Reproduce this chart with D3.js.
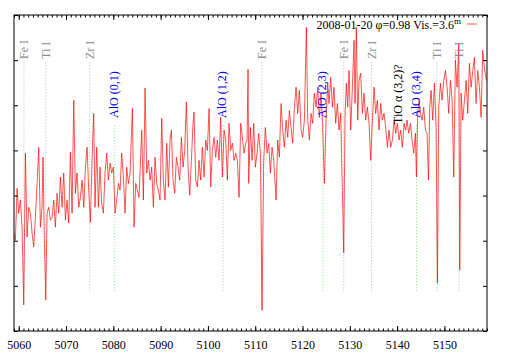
<!DOCTYPE html>
<html>
<head>
<meta charset="utf-8">
<script src="https://cdn.jsdelivr.net/npm/d3@7"></script>
<style>
  body { margin: 0; background: #fff; }
  text { font-family: "Liberation Serif", "DejaVu Serif", serif; }
</style>
</head>
<body>
<div class="container"></div>
<script>
// wavelength (Angstrom) and relative flux
const wavelength = [
  5058.94, 5059.29, 5059.65, 5060.00, 5060.35, 5060.70, 5061.06, 5061.41, 5061.76, 5062.11,
  5062.47, 5062.82, 5063.17, 5063.52, 5063.88, 5064.23, 5064.58, 5064.93, 5065.14, 5065.42,
  5065.71, 5065.99, 5066.34, 5066.69, 5067.05, 5067.40, 5067.75, 5068.10, 5068.46, 5068.81,
  5069.16, 5069.51, 5069.87, 5070.22, 5070.57, 5070.92, 5071.28, 5071.63, 5071.98, 5072.33,
  5072.69, 5073.04, 5073.39, 5073.75, 5074.10, 5074.45, 5074.80, 5075.15, 5075.50, 5075.85,
  5076.13, 5076.49, 5076.84, 5077.19, 5077.54, 5077.90, 5078.25, 5078.60, 5078.95, 5079.31,
  5079.66, 5080.01, 5080.36, 5080.72, 5081.07, 5081.42, 5081.77, 5082.13, 5082.48, 5082.83,
  5083.18, 5083.54, 5084.03, 5084.38, 5084.73, 5085.08, 5085.44, 5086.00, 5086.35, 5086.71,
  5087.06, 5087.41, 5087.76, 5088.11, 5088.47, 5088.82, 5089.17, 5089.52, 5089.88, 5090.23,
  5090.58, 5090.93, 5091.29, 5091.64, 5091.99, 5092.27, 5092.62, 5092.98, 5093.33, 5093.68,
  5094.03, 5094.39, 5094.74, 5095.09, 5095.44, 5095.80, 5096.15, 5096.50, 5096.85, 5097.06,
  5097.42, 5097.77, 5098.12, 5098.47, 5098.83, 5099.18, 5099.53, 5099.88, 5100.24, 5100.59,
  5100.94, 5101.29, 5101.65, 5102.00, 5102.35, 5102.70, 5103.05, 5103.41, 5103.76, 5104.11,
  5104.46, 5104.82, 5105.17, 5105.52, 5105.87, 5106.23, 5106.58, 5106.93, 5107.28, 5107.64,
  5107.99, 5108.27, 5108.48, 5108.62, 5108.97, 5109.33, 5109.68, 5110.03, 5110.38, 5110.74,
  5111.09, 5111.44, 5111.79, 5112.14, 5112.50, 5112.85, 5113.20, 5113.55, 5113.91, 5114.40,
  5114.75, 5115.10, 5115.46, 5115.81, 5116.16, 5116.51, 5116.87, 5117.22, 5117.57, 5117.92,
  5118.28, 5118.63, 5118.98, 5119.33, 5119.69, 5120.04, 5120.39, 5120.81, 5121.10, 5121.45,
  5121.80, 5122.15, 5122.50, 5122.86, 5123.21, 5123.56, 5123.91, 5124.26, 5124.62, 5124.97,
  5125.32, 5125.60, 5125.96, 5126.31, 5126.66, 5127.01, 5127.37, 5127.72, 5128.07, 5128.42,
  5128.71, 5128.99, 5129.27, 5129.55, 5129.83, 5130.19, 5130.54, 5130.89, 5131.10, 5131.38,
  5131.67, 5131.95, 5132.30, 5132.65, 5133.00, 5133.36, 5133.71, 5134.06, 5134.41, 5134.77,
  5135.12, 5135.47, 5135.82, 5136.18, 5136.53, 5136.88, 5137.23, 5137.58, 5137.94, 5138.29,
  5138.64, 5138.99, 5139.35, 5139.70, 5140.05, 5140.40, 5140.76, 5141.11, 5141.46, 5141.81,
  5142.10, 5142.46, 5142.81, 5143.16, 5143.51, 5143.87, 5144.08, 5144.36, 5144.64, 5144.92,
  5145.28, 5145.63, 5145.98, 5146.33, 5146.62, 5146.90, 5147.18, 5147.53, 5147.88, 5148.24,
  5148.52, 5148.80, 5149.15, 5149.50, 5149.86, 5150.21, 5150.56, 5150.91, 5151.27, 5151.62,
  5151.97, 5152.32, 5152.68, 5153.03, 5153.24, 5153.52, 5153.87, 5154.23, 5154.58, 5154.93,
  5155.28, 5155.64, 5155.99, 5156.34, 5156.69, 5157.04, 5157.40, 5157.75, 5158.10, 5158.45,
  5158.87
];
const flux = [
  2.17, 2.01, 3.16, 2.61, 2.90, 2.30, 0.58, 3.94, 2.08, 2.74,
  2.61, 2.17, 1.86, 2.52, 3.27, 4.07, 2.30, 2.74, 3.85, 2.01,
  0.69, 2.61, 2.74, 2.46, 2.52, 2.90, 2.30, 3.05, 2.61, 3.41,
  2.74, 3.50, 2.46, 2.90, 2.39, 3.96, 2.61, 5.11, 3.05, 3.50,
  2.74, 2.96, 3.34, 2.74, 3.63, 4.07, 3.12, 2.41, 3.78, 4.82,
  2.74, 4.07, 2.74, 3.63, 2.83, 2.61, 3.50, 3.94, 3.34, 3.72,
  3.50, 3.63, 2.61, 2.90, 3.27, 3.12, 3.94, 3.41, 2.61, 3.63,
  3.27, 3.50, 4.93, 2.30, 3.27, 3.12, 2.96, 4.45, 2.90, 5.38,
  3.50, 3.78, 3.34, 3.63, 2.74, 3.85, 3.27, 3.12, 2.90, 4.71,
  3.34, 2.90, 4.16, 3.19, 4.23, 4.45, 3.34, 3.05, 3.85, 3.63,
  3.34, 4.29, 3.63, 4.00, 5.07, 3.63, 3.01, 3.78, 4.60, 4.85,
  3.34, 3.19, 3.78, 3.34, 4.07, 3.41, 4.23, 4.00, 4.93, 3.19,
  4.00, 4.29, 3.85, 4.23, 3.78, 4.73, 3.41, 4.45, 4.23, 3.34,
  4.60, 4.00, 4.16, 3.78, 3.94, 3.78, 2.96, 4.60, 4.29, 3.94,
  4.16, 4.23, 5.80, 3.27, 4.51, 3.78, 4.60, 3.63, 3.94, 4.38,
  3.94, 0.46, 3.78, 4.51, 3.94, 4.16, 3.50, 4.07, 3.78, 2.90,
  4.23, 3.85, 5.04, 4.45, 4.07, 4.67, 4.29, 4.89, 4.51, 4.16,
  4.96, 5.40, 4.82, 5.33, 4.45, 4.29, 4.67, 6.73, 4.67, 4.23,
  4.82, 4.60, 5.27, 4.96, 5.40, 4.73, 5.27, 4.51, 3.27, 4.67,
  5.50, 5.04, 5.62, 4.96, 5.40, 4.60, 5.04, 4.45, 4.82, 3.12,
  1.73, 4.82, 5.49, 4.96, 5.77, 4.45, 5.40, 6.44, 5.04, 6.73,
  4.67, 5.55, 5.71, 4.82, 5.27, 4.67, 4.96, 4.60, 3.78, 4.67,
  5.40, 4.82, 5.11, 4.45, 5.04, 4.67, 4.82, 4.51, 4.07, 4.45,
  4.07, 4.23, 4.67, 4.38, 4.60, 4.23, 4.45, 4.07, 4.60, 4.45,
  4.67, 4.38, 4.60, 4.23, 3.94, 4.38, 3.41, 4.82, 5.11, 4.82,
  4.67, 4.96, 4.45, 4.38, 3.34, 4.96, 5.33, 4.67, 5.49, 4.51,
  1.06, 4.96, 5.49, 5.11, 5.55, 5.77, 5.40, 4.82, 5.55, 5.11,
  3.41, 6.00, 5.40, 6.37, 1.35, 5.27, 4.67, 5.11, 5.55, 4.82,
  5.93, 5.40, 5.77, 6.06, 5.04, 5.77, 5.40, 4.73, 6.22, 5.84,
  5.55
];

// atomic lines (grey) and molecular bands
const atomLabels = ["Fe I", "Ti I", "Zr I", "Fe I", "Fe I", "Zr I", "Ti I", "Ti I"];
const atomWaves  = [5061.1, 5065.7, 5075.0, 5111.4, 5128.7, 5134.6, 5148.4, 5153.1];
const bandLabels = ["AlO (0,1)", "AlO (1,2)", "AlO (2,3)", "AlO (3,4)"];
const bandWaves  = [5080.3, 5103.2, 5124.3, 5144.1];
const tioLabel = "TiO \u03b1 (3,2)?";
const tioWave  = 5140.1;

const xTicks = [5060, 5070, 5080, 5090, 5100, 5110, 5120, 5130, 5140, 5150];
const legendText = "2008-01-20 \u03c6=0.98 Vis.=3.6";

const margin = {top: 15, right: 22, bottom: 25, left: 14};
const W = 509, H = 356;
const width = W - margin.left - margin.right;
const height = H - margin.top - margin.bottom;

const svg = d3.select(".container")
  .append("svg")
    .attr("width", W)
    .attr("height", H)
  .append("g")
    .attr("transform", "translate(" + margin.left + "," + margin.top + ")");

const x = d3.scaleLinear().domain([5059, 5159]).range([0, width]);
const y = d3.scaleLinear().domain([0, 7]).range([height, 0]);

svg.append("clipPath").attr("id", "clip")
  .append("rect").attr("width", width).attr("height", height);

// marker lines
const markers = svg.append("g");
markers.selectAll(".atom-line")
  .data(atomWaves)
  .enter().append("line")
    .attr("x1", d => x(d)).attr("x2", d => x(d))
    .attr("y1", y(5.95)).attr("y2", y(0.84))
    .attr("stroke", "#aaa")
    .attr("stroke-width", 0.8)
    .attr("stroke-dasharray", "1,2");

markers.selectAll(".band-line")
  .data(bandWaves)
  .enter().append("line")
    .attr("x1", d => x(d)).attr("x2", d => x(d))
    .attr("y1", y(4.56)).attr("y2", y(0.84))
    .attr("stroke", "#66e066")
    .attr("stroke-width", 0.8)
    .attr("stroke-dasharray", "1,2");

// spectrum
const pts = wavelength.map((w, i) => [w, flux[i]]);
svg.append("path")
  .datum(pts)
  .attr("clip-path", "url(#clip)")
  .attr("fill", "none")
  .attr("stroke", "#ff0000")
  .attr("stroke-width", 0.9)
  .attr("stroke-opacity", 0.75)
  .attr("d", d3.line().x(d => x(d[0])).y(d => y(d[1])));

// labels
svg.selectAll(".atom-label")
  .data(atomWaves)
  .enter().append("text")
    .attr("transform", d => "translate(" + x(d) + "," + (44 - margin.top + 15) + ") rotate(-90)")
    .attr("dy", "0.35em")
    .attr("font-size", 12)
    .attr("fill", "#8c8c8c")
    .text((d, i) => atomLabels[i]);

svg.selectAll(".band-label")
  .data(bandWaves)
  .enter().append("text")
    .attr("transform", d => "translate(" + (x(d) - 1) + "," + (118 - margin.top) + ") rotate(-90)")
    .attr("dy", "0.35em")
    .attr("font-size", 12)
    .attr("fill", "#0000ff")
    .text((d, i) => bandLabels[i]);

svg.append("text")
  .attr("transform", "translate(" + x(tioWave) + "," + (124 - margin.top) + ") rotate(-90)")
  .attr("dy", "0.35em")
  .attr("font-size", 12)
  .attr("fill", "#000")
  .text(tioLabel);

// axes
function styleAxis(g) {
  g.select(".domain").remove();
  g.selectAll("line").attr("stroke", "#000");
  g.selectAll("text").attr("font-family", "Liberation Serif, serif").attr("font-size", 12).attr("fill", "#000");
}

svg.append("g")
  .attr("transform", "translate(0," + height + ")")
  .call(d3.axisBottom(x).tickValues(xTicks).tickFormat(d3.format("d")).tickSizeInner(-5).tickSizeOuter(0).tickPadding(9))
  .call(styleAxis);

svg.append("g")
  .attr("transform", "translate(0," + height + ")")
  .call(d3.axisBottom(x).ticks(100).tickFormat("").tickSizeInner(-2.5).tickSizeOuter(0))
  .call(styleAxis);

svg.append("g")
  .call(d3.axisTop(x).tickValues(xTicks).tickFormat("").tickSizeInner(-5).tickSizeOuter(0))
  .call(styleAxis);

svg.append("g")
  .call(d3.axisTop(x).ticks(100).tickFormat("").tickSizeInner(-2.5).tickSizeOuter(0))
  .call(styleAxis);

svg.append("g")
  .call(d3.axisLeft(y).ticks(7).tickFormat("").tickSizeInner(-4).tickSizeOuter(0))
  .call(styleAxis);

svg.append("g")
  .attr("transform", "translate(" + width + ",0)")
  .call(d3.axisRight(y).ticks(7).tickFormat("").tickSizeInner(-4).tickSizeOuter(0))
  .call(styleAxis);

svg.append("rect")
  .attr("width", width)
  .attr("height", height)
  .attr("fill", "none")
  .attr("stroke", "#000")
  .attr("stroke-width", 1);

// key
const key = svg.append("g");
const keyText = key.append("text")
  .attr("x", 461 - margin.left)
  .attr("y", 29 - margin.top)
  .attr("text-anchor", "end")
  .attr("font-size", 12)
  .attr("fill", "#000");
keyText.append("tspan").text(legendText);
keyText.append("tspan").attr("dy", -5).attr("font-size", 9).text("m");

key.append("line")
  .attr("x1", 467 - margin.left).attr("x2", 477 - margin.left)
  .attr("y1", 24 - margin.top).attr("y2", 24 - margin.top)
  .attr("stroke", "#ff0000")
  .attr("stroke-opacity", 0.75)
  .attr("stroke-width", 0.9);
</script>
</body>
</html>
